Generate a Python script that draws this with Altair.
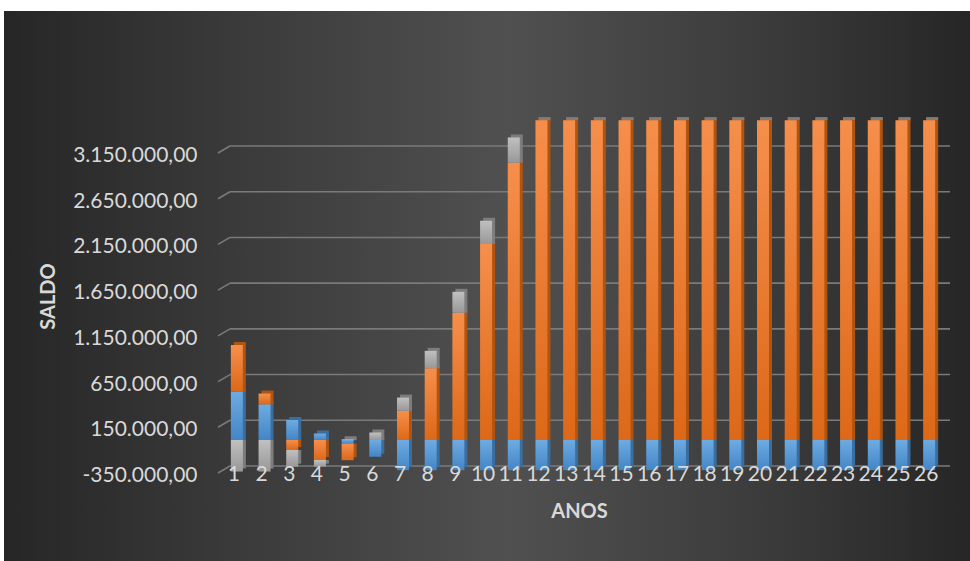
import altair as alt
import pandas as pd

# ---------------- data ----------------
anos = [1, 2, 3, 4, 5, 6, 7, 8, 9, 10, 11, 12, 13, 14, 15, 16, 17, 18, 19, 20,
        21, 22, 23, 24, 25, 26]
series_nomes = ["Série 1", "Série 2", "Série 3"]
serie_1 = [528000, 390000, 219000, 71000, -38000, -183000, -330000, -330000,
           -330000, -330000, -330000, -330000, -330000, -330000, -330000,
           -330000, -330000, -330000, -330000, -330000, -330000, -330000,
           -330000, -330000, -330000, -330000]
serie_2 = [511000, 118000, -109000, -219000, -183000, 0, 320000, 784000,
           1392000, 2144000, 3033000, 3498000, 3498000, 3498000, 3498000,
           3498000, 3498000, 3498000, 3498000, 3498000, 3498000, 3498000,
           3498000, 3498000, 3498000, 3498000]
serie_3 = [-345000, -345000, -183000, -73000, 8000, 82000, 144000, 191000,
           229000, 254000, 276000, 0, 0, 0, 0, 0, 0, 0, 0, 0, 0, 0, 0, 0, 0, 0]
y_ticks = [-350000, 150000, 650000, 1150000, 1650000, 2150000, 2650000, 3150000]

rows = []
for i, ano in enumerate(anos):
    for k, (nome, vals) in enumerate(zip(series_nomes, [serie_1, serie_2, serie_3])):
        rows.append({"ano": ano, "serie": nome, "ordem": k, "valor": vals[i]})
df = pd.DataFrame(rows)
grid_df = pd.DataFrame({"v": y_ticks})

# ---------------- style ----------------
W, H = 720, 372
PAD = {"left": 223, "top": 100, "right": 27, "bottom": 89}
TXT = "#d9d9d9"
FONT = "Lato"

def vgrad(top, bottom):
    return alt.LinearGradient(
        gradient="linear",
        stops=[alt.GradientStop(color=top, offset=0),
               alt.GradientStop(color=bottom, offset=1)],
        x1=0, x2=0, y1=0, y2=1)

front_fill = {
    "Série 1": vgrad("#6eabe2", "#4385c6"),
    "Série 2": vgrad("#f68f4c", "#dd6818"),
    "Série 3": vgrad("#c0c0c0", "#989898"),
}
side_fill = {"Série 1": "#3a6e9e", "Série 2": "#b0540f", "Série 3": "#7d7d7d"}

bg_grad = alt.LinearGradient(
    gradient="linear",
    stops=[alt.GradientStop(color="#262626", offset=0),
           alt.GradientStop(color="#3b3b3b", offset=0.25),
           alt.GradientStop(color="#505050", offset=0.52),
           alt.GradientStop(color="#3c3c3c", offset=0.78),
           alt.GradientStop(color="#262626", offset=1)],
    x1=0, x2=1, y1=0, y2=0)

yscale = alt.Scale(domain=[-350000, 3718750], nice=False, zero=False)
xscale = alt.Scale(paddingInner=0, paddingOuter=0)

label_expr = ("replace(replace(replace(replace(format(datum.value, ',.2f'), "
              "regexp(',', 'g'), '#'), regexp('[.]', 'g'), ','), "
              "regexp('#', 'g'), '.'), '\u2212', '-')")

x_axis = alt.Axis(title="ANOS", labelAngle=0, labelFont=FONT, labelFontSize=21,
                  labelColor=TXT, labelBaseline="alphabetic", labelPadding=8,
                  labelOffset=-3, ticks=False, domain=False, grid=False,
                  labelOverlap=False, titleFont=FONT, titleFontSize=20,
                  titleFontWeight="bold", titleColor=TXT, titleX=356, titleY=39,
                  titleAlign="center", titleBaseline="middle", zindex=1)
y_axis = alt.Axis(title="SALDO", values=y_ticks, labelExpr=label_expr,
                  labelFont=FONT, labelFontSize=21, labelColor=TXT, labelPadding=26,
                  labelBaseline="alphabetic", labelOffset=9.5, ticks=False,
                  domain=False, grid=False, titleFont=FONT,
                  titleFontSize=20, titleFontWeight="bold", titleColor=TXT,
                  titleX=-175, titleY=196, titleAngle=270, titleAlign="center",
                  titleBaseline="middle", zindex=1)

# ---------------- layers ----------------
bg = alt.Chart(alt.Data(values=[{"a": 1}])).mark_rect(fill=bg_grad).encode(
    x=alt.value(4 - PAD["left"]), x2=alt.value(970 - PAD["left"]),
    y=alt.value(11 - PAD["top"]), y2=alt.value(561 - PAD["top"]))

def stacked():
    return alt.Chart(df).transform_stack(
        stack="valor", groupby=["ano"], as_=["y0", "y1"],
        sort=[alt.SortField("ordem", order="ascending")], offset="zero")

grid = alt.Chart(grid_df).mark_rule(color="#7a7a7a", strokeWidth=1.6, yOffset=-6).encode(
    y=alt.Y("v:Q", scale=yscale, axis=y_axis),
    x=alt.value(7), x2=alt.value(727))

slant = alt.Chart(grid_df).mark_rule(color="#7a7a7a", strokeWidth=1.6, yOffset=1, y2Offset=-6).encode(
    y=alt.Y("v:Q", scale=yscale, axis=y_axis), y2="v:Q",
    x=alt.value(-5), x2=alt.value(7))

shade_layers = []
front_layers = []
for nome in series_nomes:
    shade_layers.append(
        stacked().transform_filter(alt.datum.serie == nome)
        .mark_bar(size=12, fill=side_fill[nome], xOffset=3, yOffset=-3)
        .encode(x=alt.X("ano:O", scale=xscale, axis=x_axis),
                y=alt.Y("y1:Q", scale=yscale, axis=y_axis), y2="y0:Q"))
    front_layers.append(
        stacked().transform_filter(alt.datum.serie == nome)
        .mark_bar(size=12, fill=front_fill[nome])
        .encode(x=alt.X("ano:O", scale=xscale, axis=x_axis),
                y=alt.Y("y1:Q", scale=yscale, axis=y_axis), y2="y0:Q"))

chart = alt.layer(bg, grid, slant, *shade_layers, *front_layers).properties(
    width=W, height=H,
    autosize=alt.AutoSizeParams(type="none"),
    padding=PAD,
).configure(background="white").configure_view(strokeWidth=0)

chart.save("out.html", embed_options={"renderer": "svg", "actions": False})
